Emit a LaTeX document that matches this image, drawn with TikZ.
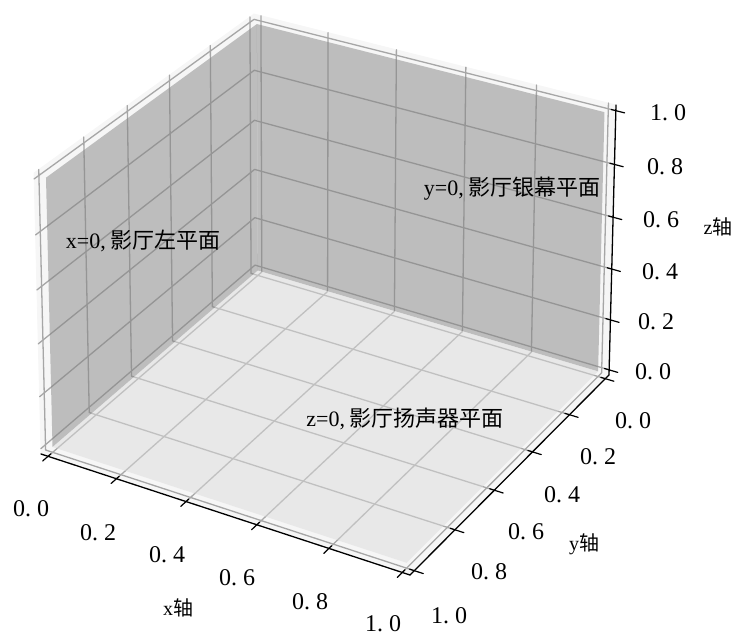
\documentclass[tikz,border=0pt]{standalone}
\usepackage{fontspec}
\setmainfont{Liberation Serif}
\newfontfamily\cjk{Noto Sans CJK SC}
\usetikzlibrary{calc}
% pane-box corners: pixel x, pixel y (down), depth weight ; letters = x,y,z index (a=low, b=high)
\def\Xaaa{255}\def\Yaaa{270}\def\Waaa{10.88}
\def\Xbaa{609}\def\Ybaa{375}\def\Wbaa{10.43}
\def\Xaba{41}\def\Yaba{454}\def\Waba{10.06}
\def\Xbba{410}\def\Ybba{575}\def\Wbba{9.61}
\def\Xaab{254}\def\Yaab{14}\def\Waab{10.39}
\def\Xbab{616}\def\Ybab{105}\def\Wbab{9.94}
\def\Xabb{34}\def\Yabb{173}\def\Wabb{9.57}
\def\Xbbb{407}\def\Ybbb{291}\def\Wbbb{9.12}
\def\lo{-0.020833}
\def\hi{1.020833}
\newcommand\proj[4]{%
  \pgfmathsetmacro\Ux{(48*(#2)+1)/50}%
  \pgfmathsetmacro\Uy{(48*(#3)+1)/50}%
  \pgfmathsetmacro\Uz{(48*(#4)+1)/50}%
  \pgfmathsetmacro\Vx{1-\Ux}%
  \pgfmathsetmacro\Vy{1-\Uy}%
  \pgfmathsetmacro\Vz{1-\Uz}%
  \pgfmathsetmacro\Caaa{\Vx*\Vy*\Vz*\Waaa}%
  \pgfmathsetmacro\Cbaa{\Ux*\Vy*\Vz*\Wbaa}%
  \pgfmathsetmacro\Caba{\Vx*\Uy*\Vz*\Waba}%
  \pgfmathsetmacro\Cbba{\Ux*\Uy*\Vz*\Wbba}%
  \pgfmathsetmacro\Caab{\Vx*\Vy*\Uz*\Waab}%
  \pgfmathsetmacro\Cbab{\Ux*\Vy*\Uz*\Wbab}%
  \pgfmathsetmacro\Cabb{\Vx*\Uy*\Uz*\Wabb}%
  \pgfmathsetmacro\Cbbb{\Ux*\Uy*\Uz*\Wbbb}%
  \pgfmathsetmacro\Csum{\Caaa+\Cbaa+\Caba+\Cbba+\Caab+\Cbab+\Cabb+\Cbbb}%
  \pgfmathsetmacro\PX{(\Caaa*\Xaaa+\Cbaa*\Xbaa+\Caba*\Xaba+\Cbba*\Xbba+\Caab*\Xaab+\Cbab*\Xbab+\Cabb*\Xabb+\Cbbb*\Xbbb)/\Csum}%
  \pgfmathsetmacro\PY{(\Caaa*\Yaaa+\Cbaa*\Ybaa+\Caba*\Yaba+\Cbba*\Ybba+\Caab*\Yaab+\Cbab*\Ybab+\Cabb*\Yabb+\Cbbb*\Ybbb)/\Csum}%
  \coordinate (#1) at (\PX,\PY);%
}
\definecolor{panec}{gray}{0.965}
\definecolor{gridc}{gray}{0.65}
\definecolor{wallc}{gray}{0.52}
\definecolor{floorc}{gray}{0.86}
\tikzset{
  pane/.style={fill=panec, draw=panec, line width=0.8pt},
  gridl/.style={draw=gridc, line width=1.3pt},
  wall/.style={fill=wallc, fill opacity=0.5},
  floor/.style={fill=floorc, fill opacity=0.5},
  axisl/.style={draw=black, line width=1.3pt},
  tickl/.style={draw=black, line width=1.2pt},
  ticklab/.style={font=\fontsize{24}{28}\selectfont, inner sep=0pt},
  planelab/.style={font=\fontsize{22}{26}\selectfont, inner sep=0pt},
  axlab/.style={font=\fontsize{20}{24}\selectfont, inner sep=0pt}
}
\begin{document}
\begin{tikzpicture}[x=1pt,y=-1pt,line join=round,line cap=round]
\useasboundingbox (0,0) rectangle (736,637);
% pane corners
\proj{Paaa}{\lo}{\lo}{\lo}
\proj{Pbaa}{\hi}{\lo}{\lo}
\proj{Paba}{\lo}{\hi}{\lo}
\proj{Pbba}{\hi}{\hi}{\lo}
\proj{Paab}{\lo}{\lo}{\hi}
\proj{Pbab}{\hi}{\lo}{\hi}
\proj{Pabb}{\lo}{\hi}{\hi}
% panes
\filldraw[pane] (Paaa) -- (Paba) -- (Pabb) -- (Paab) -- cycle;
\filldraw[pane] (Paaa) -- (Pbaa) -- (Pbab) -- (Paab) -- cycle;
\filldraw[pane] (Paaa) -- (Pbaa) -- (Pbba) -- (Paba) -- cycle;
% grid lines
\foreach \t in {0,0.2,0.4,0.6,0.8,1}{
  \proj{gxa}{\t}{\hi}{\lo}\proj{gxb}{\t}{\lo}{\lo}\proj{gxc}{\t}{\lo}{\hi}
  \draw[gridl] (gxa) -- (gxb) -- (gxc);
  \proj{gya}{\hi}{\t}{\lo}\proj{gyb}{\lo}{\t}{\lo}\proj{gyc}{\lo}{\t}{\hi}
  \draw[gridl] (gya) -- (gyb) -- (gyc);
  \proj{gza}{\lo}{\hi}{\t}\proj{gzb}{\lo}{\lo}{\t}\proj{gzc}{\hi}{\lo}{\t}
  \draw[gridl] (gza) -- (gzb) -- (gzc);
}
% surfaces
\proj{S000}{0}{0}{0}
\proj{S100}{1}{0}{0}
\proj{S010}{0}{1}{0}
\proj{S110}{1}{1}{0}
\proj{S001}{0}{0}{1}
\proj{S101}{1}{0}{1}
\proj{S011}{0}{1}{1}
\fill[wall] (S000) -- (S010) -- (S011) -- (S001) -- cycle;
\fill[wall] (S000) -- (S100) -- (S101) -- (S001) -- cycle;
\fill[floor] (S000) -- (S100) -- (S110) -- (S010) -- cycle;
% axis lines
\draw[axisl] (Paba) -- (Pbba);
\draw[axisl] (Pbaa) -- (Pbba);
\draw[axisl] (Pbaa) -- (Pbab);
% ticks
\foreach \t in {0,0.2,0.4,0.6,0.8,1}{
  \proj{txa}{\t}{1.008}{\lo}\proj{txb}{\t}{1.045}{\lo}
  \draw[tickl] (txa) -- (txb);
  \proj{tya}{1.008}{\t}{\lo}\proj{tyb}{1.045}{\t}{\lo}
  \draw[tickl] (tya) -- (tyb);
  \proj{tza}{1.008}{\lo}{\t}\proj{tzb}{1.045}{\lo}{\t}
  \draw[tickl] (tza) -- (tzb);
}
% tick labels
\node[ticklab] (x0) at (31,509) {0.\kern0.25em 0};
\node[ticklab] (x2) at (98,533) {0.\kern0.25em 2};
\node[ticklab] (x4) at (167,555) {0.\kern0.25em 4};
\node[ticklab] (x6) at (237,578) {0.\kern0.25em 6};
\node[ticklab] (x8) at (310,602) {0.\kern0.25em 8};
\node[ticklab] (x10) at (383,624) {1.\kern0.25em 0};
\node[ticklab] (y0) at (633,421) {0.\kern0.25em 0};
\node[ticklab] (y2) at (598,457) {0.\kern0.25em 2};
\node[ticklab] (y4) at (562,495) {0.\kern0.25em 4};
\node[ticklab] (y6) at (526,532) {0.\kern0.25em 6};
\node[ticklab] (y8) at (489,572) {0.\kern0.25em 8};
\node[ticklab] (y10) at (449,616) {1.\kern0.25em 0};
\node[ticklab] (z0) at (653,372) {0.\kern0.25em 0};
\node[ticklab] (z2) at (656,322) {0.\kern0.25em 2};
\node[ticklab] (z4) at (660,272) {0.\kern0.25em 4};
\node[ticklab] (z6) at (661,220) {0.\kern0.25em 6};
\node[ticklab] (z8) at (665,167) {0.\kern0.25em 8};
\node[ticklab] (z10) at (668,113) {1.\kern0.25em 0};
% axis labels
\node[axlab] (xl) at (178,608) {x{\cjk 轴}};
\node[axlab] (yl) at (584,544) {y{\cjk 轴}};
\node[axlab] (zl) at (718,227) {z{\cjk 轴}};
% plane labels
\node[planelab] (lx) at (143,241) {x=0,\kern0.2em{\cjk 影厅左平面}};
\node[planelab] (ly) at (512,189) {y=0,\kern0.2em{\cjk 影厅银幕平面}};
\node[planelab] (lz) at (405,419) {z=0,\kern0.2em{\cjk 影厅扬声器平面}};
\end{tikzpicture}
\end{document}
